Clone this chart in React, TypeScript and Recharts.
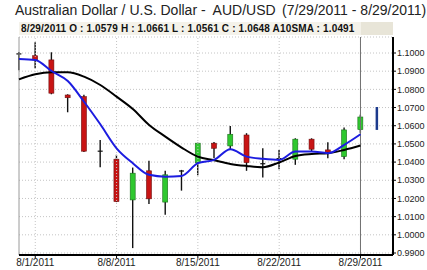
import React from 'react';
import { ComposedChart, Bar, Line, XAxis, YAxis, CartesianGrid, ReferenceLine } from 'recharts';

// trading days, 7/29/2011 .. 8/30/2011
const dates = [
  '7/29/2011', '8/1/2011', '8/2/2011', '8/3/2011', '8/4/2011', '8/5/2011',
  '8/8/2011', '8/9/2011', '8/10/2011', '8/11/2011', '8/12/2011',
  '8/15/2011', '8/16/2011', '8/17/2011', '8/18/2011', '8/19/2011',
  '8/22/2011', '8/23/2011', '8/24/2011', '8/25/2011', '8/26/2011',
  '8/29/2011', '8/30/2011',
];
const opens = [1.0995, 1.0985, 1.0962, 1.0769, 1.0760, 1.0460, 1.0416, 1.0192, 1.0352, 1.0180, 1.0351, 1.0396, 1.0504, 1.0489, 1.0549, 1.0391, 1.0419, 1.0416, 1.0526, 1.0467, 1.0430, 1.0579, null];
const highs = [1.1005, 1.1059, 1.1004, 1.0773, 1.0770, 1.0522, 1.0440, 1.0370, 1.0408, 1.0353, 1.0357, 1.0507, 1.0510, 1.0599, 1.0559, 1.0476, 1.0467, 1.0531, 1.0531, 1.0509, 1.0590, 1.0661, 1.0703];
const lows = [1.0905, 1.0916, 1.0773, 1.0674, 1.0455, 1.0372, 1.0180, 0.9927, 1.0170, 1.0110, 1.0243, 1.0327, 1.0421, 1.0467, 1.0352, 1.0315, 1.0361, 1.0385, 1.0458, 1.0421, 1.0416, 1.0561, 1.0577];
const closes = [1.0995, 1.0962, 1.0779, 1.0754, 1.0460, 1.0458, 1.0183, 1.0339, 1.0198, 1.0330, 1.0352, 1.0504, 1.0476, 1.0553, 1.0397, 1.0390, 1.0418, 1.0526, 1.0471, 1.0449, 1.0577, 1.0648, null];
const sma10 = [1.0855, 1.0883, 1.0894, 1.0894, 1.0870, 1.0824, 1.0760, 1.0692, 1.0604, 1.0540, 1.0480, 1.0430, 1.0410, 1.0390, 1.0379, 1.0372, 1.0398, 1.0434, 1.0445, 1.0449, 1.0467, 1.0491, null];
const sma5 = [1.0967, 1.0962, 1.0901, 1.0846, 1.0732, 1.0608, 1.0476, 1.0394, 1.0330, 1.0320, 1.0324, 1.0394, 1.0412, 1.0471, 1.0430, 1.0418, 1.0412, 1.0458, 1.0458, 1.0449, 1.0495, 1.0553, null];

const weekTicks = [1, 6, 11, 16, 21];
const priceTicks = [0.99, 1.0, 1.01, 1.02, 1.03, 1.04, 1.05, 1.06, 1.07, 1.08, 1.09, 1.1];

const data = dates.map((d, i) => ({
  i,
  date: d,
  open: opens[i],
  high: highs[i],
  low: lows[i],
  close: closes[i],
  range: [lows[i], highs[i]],
  sma10: sma10[i],
  sma5: sma5[i],
}));

const font = '"Liberation Sans", Arial, sans-serif';

const Candle = (props: any) => {
  const { x, y, width, height, payload } = props;
  if (payload == null || height == null) return null;
  const cx = x + width / 2;
  const top = Math.min(y, y + height);
  const h = Math.abs(height);
  const { open, close, high, low } = payload;
  const k = h / (high - low);
  const py = (v: number) => top + (high - v) * k;

  if (open == null) {
    return <rect x={cx - 1} y={top} width={2.5} height={h} fill="#1c3a8c" />;
  }
  const wick = <line x1={cx} x2={cx} y1={top} y2={top + h} stroke="#111" strokeWidth={1.4} />;
  if (Math.abs(open - close) < 0.0005) {
    const yy = py(open);
    return (
      <g>
        {wick}
        <line x1={cx - 2.5} x2={cx + 2.5} y1={yy} y2={yy} stroke="#111" strokeWidth={1.2} />
      </g>
    );
  }
  const up = close > open;
  const bTop = py(Math.max(open, close));
  const bBot = py(Math.min(open, close));
  return (
    <g>
      {wick}
      <rect
        x={cx - 2.5}
        y={bTop}
        width={5}
        height={Math.max(bBot - bTop, 1.5)}
        fill={up ? '#2fc82f' : '#c81414'}
        stroke={up ? '#1c6e1c' : '#6e1010'}
        strokeWidth={0.6}
      />
    </g>
  );
};

export default function App() {
  return (
    <div style={{ position: 'absolute', left: 0, top: 0, width: 427, height: 270, background: '#fff', fontFamily: font }}>
      <ComposedChart
        width={427}
        height={270}
        data={data}
        margin={{ top: 37, right: 0, left: 19, bottom: 0 }}
      >
        <CartesianGrid vertical={false} stroke="#c4c4c4" strokeDasharray="1 2" />
        {weekTicks.map(t => (
          <ReferenceLine key={t} x={t} stroke="#c4c4c4" strokeDasharray="1 2" />
        ))}
        <ReferenceLine x={0} stroke="#9a9a9a" />
        <ReferenceLine x={21} stroke="#707070" />
        <XAxis
          type="number"
          dataKey="i"
          domain={[0, 23]}
          ticks={weekTicks}
          tickFormatter={(v: number) => dates[v]}
          height={15}
          axisLine={{ stroke: '#000', strokeWidth: 2 }}
          tickLine={{ stroke: '#000' }}
          tickSize={3}
          tickMargin={1}
          tick={{ fontSize: 10, fill: '#222', fontFamily: font }}
          interval={0}
        />
        <YAxis
          orientation="right"
          domain={[0.9889, 1.1088]}
          ticks={priceTicks}
          tickFormatter={(v: number) => v.toFixed(4)}
          width={34}
          axisLine={{ stroke: '#000', strokeWidth: 2 }}
          tickLine={{ stroke: '#000' }}
          tickSize={3}
          tickMargin={1}
          tick={{ fontSize: 9, fill: '#222', fontFamily: font, textAnchor: 'start' }}
          interval={0}
          allowDataOverflow
        />
        <Bar dataKey="range" barSize={6} shape={<Candle />} isAnimationActive={false} />
        <Line type="monotone" dataKey="sma10" stroke="#000" strokeWidth={2} dot={false} isAnimationActive={false} />
        <Line type="monotone" dataKey="sma5" stroke="#1c1ce0" strokeWidth={2} dot={false} isAnimationActive={false} />
      </ComposedChart>

      <div style={{ position: 'absolute', left: 15, top: 2, fontSize: 14, color: '#222', whiteSpace: 'pre' }}>
        Australian Dollar / U.S. Dollar -  AUD/USD
      </div>
      <div style={{ position: 'absolute', left: 282, top: 2, fontSize: 14, color: '#222', whiteSpace: 'pre' }}>
        (7/29/2011 - 8/29/2011)
      </div>
      <div style={{ position: 'absolute', left: 19, top: 22, width: 342, height: 13, background: '#f4f2ea' }} />
      <div style={{ position: 'absolute', left: 361, top: 22, width: 32, height: 13, background: '#e8e5d8' }} />
      <div style={{ position: 'absolute', left: 21, top: 23, fontSize: 10, letterSpacing: 0.15, fontWeight: 'bold', color: '#111', whiteSpace: 'pre', lineHeight: '11px' }}>
        8/29/2011 O : 1.0579 H : 1.0661 L : 1.0561 C : 1.0648 A10SMA : 1.0491
      </div>
    </div>
  );
}
